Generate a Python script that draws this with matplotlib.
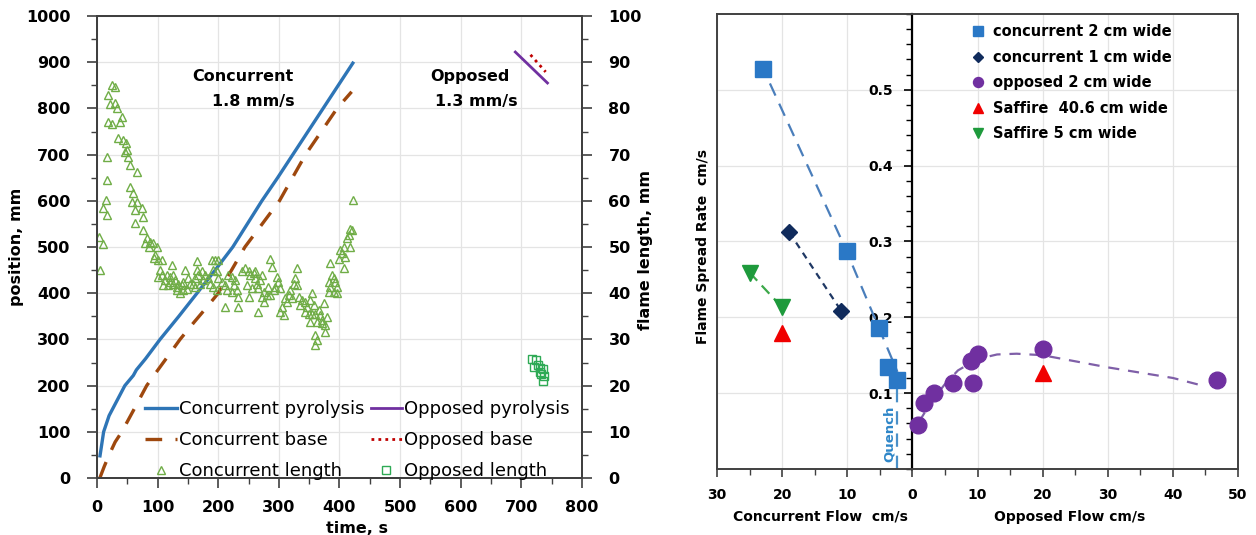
import matplotlib.pyplot as plt
from matplotlib.ticker import MultipleLocator, FuncFormatter
import matplotlib.transforms as mtransforms

plt.rcParams['font.family'] = ['DejaVu Sans']

# ---------------------- left panel data (time, s) ----------------------
conc_pyro_t = [5, 11, 20, 30, 46, 60, 65, 80, 104, 135, 165, 195, 224, 248,
               272, 298, 323, 348, 373, 398, 422]
conc_pyro_pos = [48, 100, 135, 160, 200, 222, 234, 258, 300, 350, 400, 450,
                 500, 550, 600, 650, 700, 750, 800, 850, 898]

conc_base_t = [5, 12, 20, 30, 41, 60, 82, 100, 120, 137, 160, 180, 200, 222,
               244, 272, 301, 322, 344, 370, 396, 420]
conc_base_pos = [1, 25, 50, 78, 100, 146, 200, 233, 269, 300, 337, 368, 400,
                 450, 500, 549, 600, 649, 700, 750, 800, 836]

opp_pyro_t = [690, 743]
opp_pyro_pos = [922, 855]
opp_base_t = [715, 740]
opp_base_pos = [916, 879]

conc_len_t = [
    3.8, 9.4, 5, 16.1, 15, 10.5, 16.1, 16.1, 24.2, 29.7, 18.7, 21.5, 29.7,
    32.5, 18.7, 24.2, 38, 40.7, 35.2, 43.5, 48, 49, 46.3, 51.8, 54.5, 65.5,
    54.5, 60, 65.5, 57.3, 62.8, 73.8, 76.5, 62.8, 76.5,
    82, 87.5, 79, 93, 85, 98.6, 95.8, 94.7, 101, 107, 123, 164.6,
    104, 106.8, 101.3, 115, 120.6, 126, 112.3, 120.6, 128.8, 109.6, 117.8,
    126, 131.6, 134.3, 139.8, 142.6, 131.6, 137, 142.6, 148, 153.6, 150.8,
    145.3, 161.9, 167.4, 164.6, 172.9, 178.4, 159.1, 161.9, 170, 175.6,
    183.9, 189.4, 194.9, 200.4, 192.1, 197.6, 200.4, 186.6, 192.1, 197.6,
    205.9, 211.4, 214.1, 216.9, 222.4, 227.9, 225.2, 222.4, 230.7, 233.4,
    238.9, 244.4, 250, 252.7, 258.2, 261, 247.2, 255.4, 263.7, 266.4, 271.9,
    274.7, 271.9, 211.4, 233.4, 250, 266.4, 274.7,
    417.8, 420.5, 415, 412.3, 401.3, 406.8, 417.8, 404, 409.5, 398.5, 406.8,
    384.8, 387.5, 390.3, 382, 393, 384.8, 395.8, 382, 395.8, 390.3, 285.7,
    288.4, 329.7, 260.9, 269.2, 280.2, 285.7, 282.9, 291.2, 296.7, 299.4,
    293.9, 302.2, 327, 324.2, 329.7, 318.7, 316, 321.5, 313.2, 310.4, 305,
    302.2, 307.7, 332.5, 338, 335.2, 343.5, 346.2, 354.5, 351.7, 357.2,
    343.5, 349, 354.5, 351.7, 360, 365.5, 368.2, 371, 373.8, 379.3, 376.5,
    371, 376.5, 362.7, 360, 362.7, 360, 422]
conc_len_mm = [
    52.2, 50.6, 45.0, 56.9, 60.2, 58.4, 69.5, 64.5, 85.1, 84.6, 82.9, 81,
    81.1, 80, 77.1, 76.6, 77.1, 78.2, 73.5, 73.2, 72.5, 71, 70.6, 69.5, 67.7,
    66.2, 63, 61.6, 59.8, 59.8, 58, 58.4, 56.6, 55.2, 53.7,
    51.9, 51.1, 50.8, 50.8, 50.1, 50.1, 48.3, 47.6, 47.2, 47.2, 46.1, 47.0,
    45.0, 43.9, 43.6, 43.9, 43.6, 43.9, 42.9, 42.5, 42.9, 41.8, 41.8, 42.1,
    41.4, 42.1, 41.8, 42.5, 40.7, 40.0, 40.7, 41.0, 42.1, 43.2, 45.0, 43.2,
    43.9, 45.0, 44.7, 43.9, 42.1, 41.4, 42.1, 42.9, 43.2, 47.2, 47.2, 47.2,
    45.0, 44.7, 43.2, 42.1, 41.4, 40.7, 42.5, 41.8, 40.7, 43.9, 43.6, 42.9,
    41.8, 40.3, 40.7, 39.2, 44.7, 45.4, 44.7, 43.9, 44.3, 43.2, 41.8, 41.1,
    42.1, 41.1, 43.9, 40.3, 39.2, 37.1, 37.1, 39.2, 35.9, 38.2,
    54.0, 53.7, 52.6, 51.9, 49.4, 50.1, 50.1, 48.6, 47.9, 47.5, 45.4, 46.5,
    43.9, 43.2, 42.5, 42.5, 41.4, 41.4, 40.3, 40.0, 40.3, 47.5, 45.7, 45.4,
    44.7, 42.9, 39.6, 39.6, 41.4, 40.7, 43.6, 42.5, 41.4, 41.1, 43.2, 42.1,
    41.8, 40.7, 39.6, 38.9, 38.2, 38.9, 37.1, 36.0, 35.3, 39.2, 38.5, 37.4,
    38.2, 37.1, 40.0, 38.5, 37.4, 36.0, 35.6, 35.6, 33.8, 35.6, 36.4, 35.3,
    34.2, 37.8, 34.9, 33.1, 33.5, 31.7, 33.8, 30.9, 29.9, 28.8, 60.2]

opp_len_t = [717, 720, 724, 727, 730, 733, 736, 738, 735, 731]
opp_len_mm = [25.8, 24.0, 25.6, 24.5, 23.8, 22.5, 23.5, 22.0, 21.0, 23.0]

# ---------------------- right panel data (flow, cm/s) ------------------
# concurrent flows are drawn on the negative side of the axis
conc2_flow = [-22.9, -10.1, -5.2, -3.8, -2.3]
conc2_rate = [0.528, 0.288, 0.186, 0.134, 0.117]
conc2_fit_flow = [-23.3, -10.4, -2.3]
conc2_fit_rate = [0.535, 0.293, 0.128]

conc1_flow = [-18.9, -10.9]
conc1_rate = [0.312, 0.208]

opp2_flow = [0.8, 1.8, 3.3, 6.2, 9.0, 10.0, 9.3, 20, 46.7]
opp2_rate = [0.058, 0.087, 0.100, 0.114, 0.143, 0.151, 0.114, 0.158, 0.117]
opp2_fit_flow = [1.0, 3.0, 5.0, 7.0, 10.0, 13.0, 16.0, 20.0, 25.0, 30.0,
                 35.0, 40.0, 44.5]
opp2_fit_rate = [0.062, 0.09, 0.112, 0.13, 0.145, 0.151, 0.152, 0.150,
                 0.142, 0.134, 0.127, 0.120, 0.110]

saffire40_flow = [-20, 20]
saffire40_rate = [0.179, 0.126]

saffire5_flow = [-25, -20]
saffire5_rate = [0.259, 0.213]

quench_flow = [-2.3, -2.3]
quench_rate = [0.0, 0.11]

# ---------------------- styling ----------------------
FRAME = '#404040'
GRID = '#E4E4E4'
BLUE = '#2E75B6'
BROWN = '#9E480E'
GREEN_TRI = '#70AD47'
PURPLE = '#7030A0'
RED_DOT = '#C00000'
GREEN_SQ = '#2EAA55'

fig = plt.figure(figsize=(12.56, 5.35), dpi=100)


def style_frame(a):
    for s in a.spines.values():
        s.set_color(FRAME)
        s.set_linewidth(1.4)


# ====================== left panel ======================
ax = fig.add_axes([0.0772, 0.1065, 0.3862, 0.8636])
axr = ax.twinx()

ax.plot(conc_pyro_t, conc_pyro_pos, color=BLUE, lw=2.4, label='Concurrent pyrolysis')
ax.plot(conc_base_t, conc_base_pos, color=BROWN, lw=2.4, ls=(0, (5, 4)),
        label='Concurrent base')
ax.plot(opp_pyro_t, opp_pyro_pos, color=PURPLE, lw=2.0, label='Opposed pyrolysis')
ax.plot(opp_base_t, opp_base_pos, color=RED_DOT, lw=2.0, ls=(0, (1, 1.5)),
        label='Opposed base')

axr.plot(conc_len_t, conc_len_mm, ls='none', marker='^', ms=6, mfc='none',
         mec=GREEN_TRI, mew=1.0, label='Concurrent length')
axr.plot(opp_len_t, opp_len_mm, ls='none', marker='s', ms=6, mfc='none',
         mec=GREEN_SQ, mew=1.0, label='Opposed length')

ax.set_xlim(0, 800)
ax.set_ylim(0, 1000)
axr.set_ylim(0, 100)
ax.xaxis.set_major_locator(MultipleLocator(100))
ax.xaxis.set_minor_locator(MultipleLocator(50))
ax.yaxis.set_major_locator(MultipleLocator(100))
ax.yaxis.set_minor_locator(MultipleLocator(50))
axr.yaxis.set_major_locator(MultipleLocator(10))
axr.yaxis.set_minor_locator(MultipleLocator(5))

ax.grid(True, which='major', color=GRID, lw=0.9)
ax.set_axisbelow(True)
for a in (ax, axr):
    style_frame(a)
    a.tick_params(which='major', length=7, width=1.2, color=FRAME, labelsize=11.5)
    a.tick_params(which='minor', length=4, width=1.0, color=FRAME)
ax.tick_params(axis='x', which='major', pad=9)
ax.tick_params(axis='y', which='major', pad=12)
axr.tick_params(axis='y', which='major', pad=12)
for lab in ax.get_xticklabels() + ax.get_yticklabels() + axr.get_yticklabels():
    lab.set_fontweight('bold')

ax.set_xlabel('time, s', fontsize=11.5, fontweight='bold')
ax.xaxis.set_label_coords(0.536, -0.092)
ax.set_ylabel('position, mm', fontsize=11.5, fontweight='bold')
ax.yaxis.set_label_coords(-0.15, 0.5)
axr.set_ylabel('flame length, mm', fontsize=11.5, fontweight='bold')
axr.yaxis.set_label_coords(1.115, 0.494)

ax.text(157, 870, 'Concurrent', fontsize=11.5, fontweight='bold', va='center')
ax.text(190, 814, '1.8 mm/s', fontsize=11.5, fontweight='bold', va='center')
ax.text(550, 870, 'Opposed', fontsize=11.5, fontweight='bold', va='center')
ax.text(558, 814, '1.3 mm/s', fontsize=11.5, fontweight='bold', va='center')

h1, l1 = ax.get_legend_handles_labels()
h2, l2 = axr.get_legend_handles_labels()
handles = [h1[0], h1[1], h2[0], h1[2], h1[3], h2[1]]
labels = [l1[0], l1[1], l2[0], l1[2], l1[3], l2[1]]
axr.legend(handles, labels, ncol=2, loc='lower left', bbox_to_anchor=(0.1, -0.005),
           frameon=False, fontsize=13, handlelength=1.75, handletextpad=0.1,
           columnspacing=0.35, labelspacing=0.72, borderpad=0, borderaxespad=0)

# ====================== right panel ======================
ax2 = fig.add_axes([0.5709, 0.1234, 0.4148, 0.8505])
ax2.set_xlim(-30, 50)
ax2.set_ylim(0, 0.6)

ax2.plot(conc2_fit_flow, conc2_fit_rate, color='#4A7EBB', lw=1.6, ls=(0, (6, 4)))
ax2.plot(quench_flow, quench_rate, color='#4A90C8', lw=1.6, ls=(0, (6, 4)))
ax2.plot(conc1_flow, conc1_rate, color='#1F3864', lw=1.6, ls=(0, (3, 2.5)))
ax2.plot(saffire5_flow, saffire5_rate, color='#3CA84A', lw=1.6, ls=(0, (5, 3)))
ax2.plot(opp2_fit_flow, opp2_fit_rate, color='#7F5FA8', lw=1.6, ls=(0, (5, 4)))

ax2.plot(conc2_flow, conc2_rate, ls='none', marker='s', ms=12, color='#2A78C6',
         label='concurrent 2 cm wide', zorder=4)
ax2.plot(conc1_flow, conc1_rate, ls='none', marker='D', ms=8, color='#102B5C',
         label='concurrent 1 cm wide', zorder=4)
ax2.plot(opp2_flow, opp2_rate, ls='none', marker='o', ms=12, color=PURPLE,
         label='opposed 2 cm wide', zorder=4)
ax2.plot(saffire40_flow, saffire40_rate, ls='none', marker='^', ms=11, color='#F00000',
         label='Saffire  40.6 cm wide', zorder=4)
ax2.plot(saffire5_flow, saffire5_rate, ls='none', marker='v', ms=11, color='#1E9A3C',
         label='Saffire 5 cm wide', zorder=4)

ax2.text(-3.5, 0.047, 'Quench', rotation=90, color='#2E86C8', fontsize=9.5,
         fontweight='bold', ha='center', va='center')

style_frame(ax2)
ax2.spines['left'].set_position(('data', 0))
ax2.spines['left'].set_color('black')
ax2.spines['left'].set_linewidth(1.6)
ax2.plot([0, 0], [0, 1], transform=ax2.transAxes, color=FRAME, lw=1.4,
         clip_on=False)

ax2.set_xticks(range(-30, 51, 10))
ax2.xaxis.set_major_formatter(FuncFormatter(lambda v, p: f'{abs(v):g}'))
ax2.xaxis.set_minor_locator(MultipleLocator(5))
ax2.set_yticks([0.1, 0.2, 0.3, 0.4, 0.5])
ax2.yaxis.set_major_formatter(FuncFormatter(lambda v, p: f'{v:.1f}'))
ax2.yaxis.set_minor_locator(MultipleLocator(0.02))
ax2.grid(True, which='major', color=GRID, lw=0.9)
ax2.set_axisbelow(True)
ax2.tick_params(which='major', length=6, width=1.2, color=FRAME, labelsize=10)
ax2.tick_params(which='minor', length=4, width=1.0, color=FRAME)
ax2.tick_params(axis='x', which='major', pad=8)
ax2.tick_params(axis='y', which='both', color='black')
ax2.tick_params(axis='y', which='major', pad=8)
for lab in ax2.get_xticklabels() + ax2.get_yticklabels():
    lab.set_fontweight('bold')

ax2.set_ylabel('Flame Spread Rate  cm/s', fontsize=10, fontweight='bold')
ax2.yaxis.set_label_coords(-0.014, 0.49)
blend = mtransforms.blended_transform_factory(ax2.transData, ax2.transAxes)
ax2.text(-14.2, -0.105, 'Concurrent Flow  cm/s', transform=blend, fontsize=10,
         fontweight='bold', ha='center', va='center')
ax2.text(24.2, -0.105, 'Opposed Flow cm/s', transform=blend, fontsize=10,
         fontweight='bold', ha='center', va='center')

ax2.legend(loc='upper left', bbox_to_anchor=(0.49, 0.977), frameon=False,
           prop={'size': 10.5, 'weight': 'bold'}, markerscale=0.6,
           handlelength=0.8, handletextpad=0.6, labelspacing=0.72,
           borderpad=0, borderaxespad=0)

fig.savefig('out.png', dpi=100)
